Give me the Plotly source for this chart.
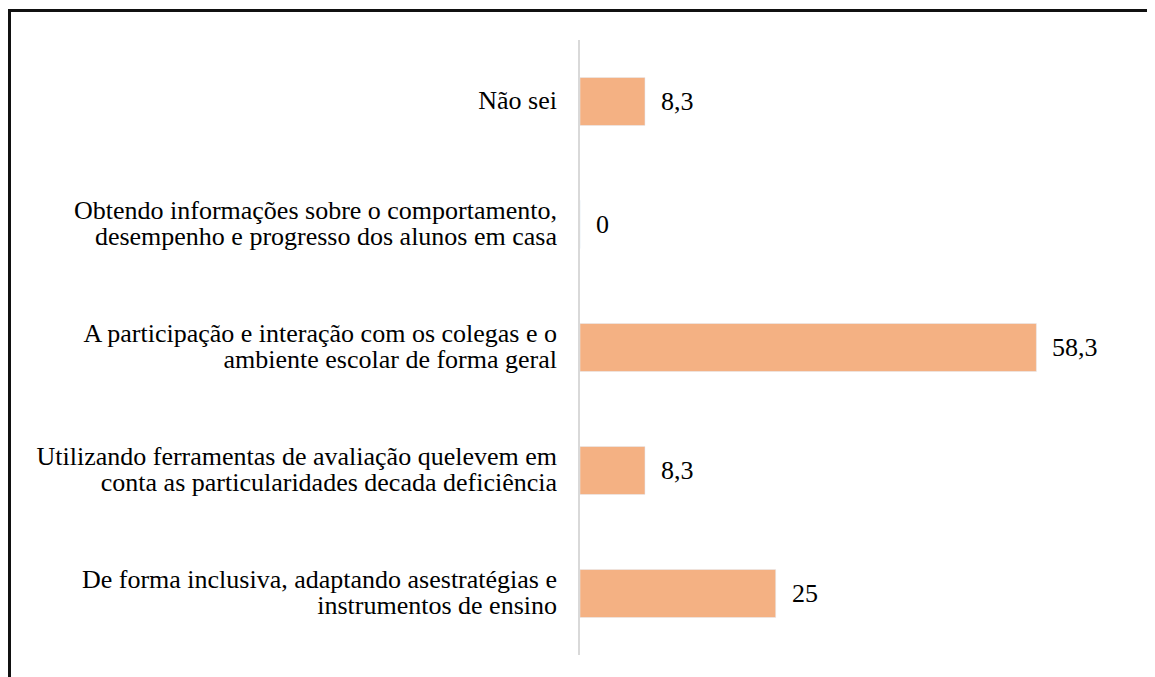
import plotly.graph_objects as go

# Data (top to bottom)
categories = [
    ["Não sei"],
    ["Obtendo informações sobre o comportamento,", "desempenho e progresso dos alunos em casa"],
    ["A participação e interação com os colegas e o", "ambiente escolar de forma geral"],
    ["Utilizando ferramentas de avaliação quelevem em", "conta as particularidades decada deficiência"],
    ["De forma inclusiva, adaptando asestratégias e", "instrumentos de ensino"],
]
values = [8.3, 0, 58.3, 8.3, 25]

FONT = "Liberation Serif"
BIG = 26

def fmt_label(lines):
    return "<br>".join(f'<span style="font-size:{BIG}px">{ln}</span>' for ln in lines)

labels = [fmt_label(c) for c in categories]
value_text = [("%g" % v).replace(".", ",") for v in values]

# page has an 8px body margin; figure pixel = page pixel - 8
W, H = 1155, 677
OFF = 8
PL, PR = 580 - OFF, 1128 - OFF      # plot left / right (figure px)
PT, PB = 40 - OFF, 655 - OFF        # plot top / bottom (figure px)

fig = go.Figure()
# empty subplot whose axis lines draw the top/left frame
fig.add_trace(go.Scatter(x=[None], y=[None], xaxis="x2", yaxis="y2",
                         mode="markers", hoverinfo="skip", showlegend=False))
fig.add_trace(go.Bar(x=values, y=labels, orientation="h",
                     marker=dict(color="#F4B183"), width=0.39,
                     xaxis="x", yaxis="y", showlegend=False))

for lab, v, t in zip(labels, values, value_text):
    fig.add_annotation(x=v, y=lab, xref="x", yref="y", text=t, showarrow=False,
                       xanchor="left", xshift=14,
                       font=dict(family=FONT, size=BIG, color="black"))

fig.update_layout(
    width=W, height=H,
    margin=dict(l=0, r=0, t=0, b=0),
    plot_bgcolor="rgba(0,0,0,0)",
    showlegend=False,
    xaxis=dict(domain=[PL / W, PR / W], range=[0, 70], visible=False, anchor="y",
               automargin=False),
    yaxis=dict(domain=[1 - PB / H, 1 - PT / H], autorange="reversed", anchor="x",
               showline=True, linecolor="#D9D9D9", linewidth=2,
               showgrid=False, zeroline=False, ticklabelstandoff=17, automargin=False,
               tickfont=dict(family=FONT, size=20, color="black")),
    xaxis2=dict(domain=[2.5 / W, 1], range=[0, 1], anchor="y2", side="top",
                showline=True, linecolor="#111111", linewidth=3,
                showticklabels=False, ticks="", showgrid=False, zeroline=False,
                automargin=False, fixedrange=True),
    yaxis2=dict(domain=[0, 1 - 4 / H], range=[0, 1], anchor="x2", side="left",
                showline=True, linecolor="#111111", linewidth=3,
                showticklabels=False, ticks="", showgrid=False, zeroline=False,
                automargin=False, fixedrange=True),
)

fig.write_html("out.html")
